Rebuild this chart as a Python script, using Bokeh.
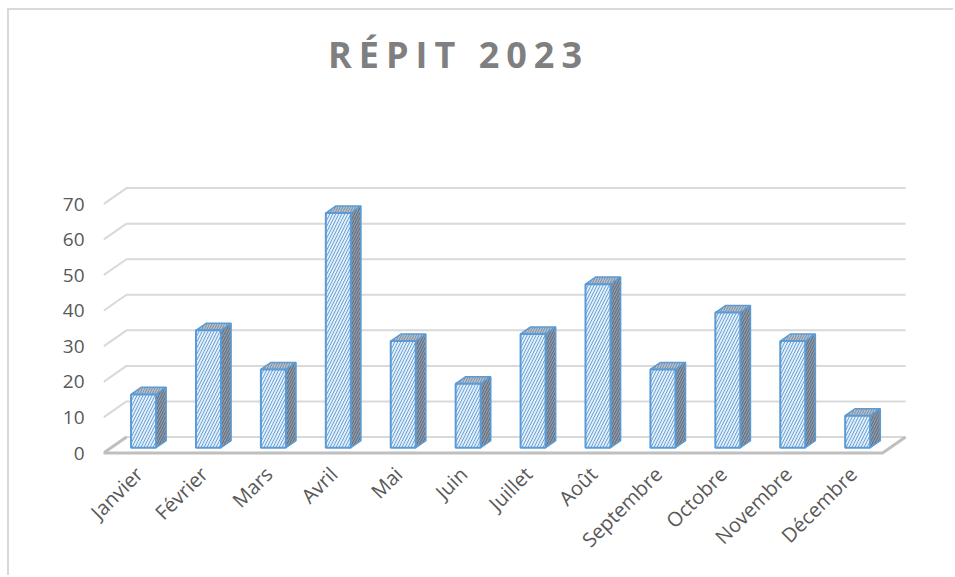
import numpy as np
from bokeh.plotting import figure
from bokeh.layouts import column
from bokeh.models import Range1d, FixedTicker, LinearAxis, Div
from bokeh.embed import file_html
from bokeh.resources import INLINE

# ---------------- data ----------------
months = ["Janvier", "Février", "Mars", "Avril", "Mai", "Juin", "Juillet",
          "Août", "Septembre", "Octobre", "Novembre", "Décembre"]
counts = [15, 33, 22, 66, 30, 18, 32, 46, 22, 38, 30, 9]
y_ticks = [0, 10, 20, 30, 40, 50, 60, 70]
title_text = "RÉPIT 2023"

# ---------------- layout (page pixels) ----------------
OX, OY = 9, 10             # content origin on page (after margin + border)
W, H = 944, 565            # total content size
TH = 120                   # title band height
HF = H - TH                # figure height
CX0, CY0 = OX, OY + TH     # figure canvas origin on page
FL, FR, FB = 103, OX + W, 457   # frame edges on page
FT = CY0
SX = 64.92                 # px per category
SY = 3.556                 # px per value unit
Y0 = 452.5                 # page y of value 0 (front plane)
DEPTH_PX = (23, 16)        # back wall offset in px
DX = DEPTH_PX[0] / SX
DY = DEPTH_PX[1] / SY
D1, D2 = 0.33, 0.77        # bar depth span (fraction of floor depth)
BW = 25 / SX               # bar width
LABEL_SHIFT = 3 / SX

x_start = -0.5
x_end = x_start + (FR - FL) / SX
y_start = -(FB - Y0) / SY
y_end = (Y0 - FT) / SY

p = figure(width=W, height=HF, output_backend="svg", toolbar_location=None,
           x_range=Range1d(x_start, x_end), y_range=Range1d(y_start, y_end),
           x_axis_location=None, min_border_left=FL - CX0, min_border_right=0,
           min_border_top=0, min_border_bottom=CY0 + HF - FB, margin=0)
p.outline_line_color = None
p.xgrid.visible = False
p.ygrid.visible = False
p.background_fill_color = "white"
p.border_fill_color = "white"

n = len(months)
# ---------------- gridlines (3D walls) ----------------
gx, gy = [], []
for t in y_ticks:
    gx.append([x_start, x_start + DX, x_start + n + DX])
    gy.append([t, t + DY, t + DY])
p.multi_line(gx, gy, line_color="#d9d9d9", line_width=2)

# floor
p.line([x_start + DX, x_start, x_start + n, x_start + n + DX],
       [DY, 0, 0, DY], line_color="#bfbfbf", line_width=3)

# ---------------- bars ----------------
fx, fy, tx, ty, sx_, sy_ = [], [], [], [], [], []
dd = D2 - D1
for i, c in enumerate(counts):
    xc = i + D1 * DX
    xl, xr = xc - BW / 2, xc + BW / 2
    vb = D1 * DY
    vt = vb + c
    fx.append([xl, xr, xr, xl]); fy.append([vb, vb, vt, vt])
    tx.append([xl, xr, xr + dd * DX, xl + dd * DX]); ty.append([vt, vt, vt + dd * DY, vt + dd * DY])
    sx_.append([xr, xr + dd * DX, xr + dd * DX, xr]); sy_.append([vb, vb + dd * DY, vt + dd * DY, vt])

p.patches(sx_, sy_, fill_color="#8e9bab", hatch_pattern="/", hatch_color="#5d6875",
          hatch_scale=5, hatch_weight=1, line_color="#5b9bd5", line_width=1.5)
p.patches(tx, ty, fill_color="#b3c2d3", hatch_pattern="/", hatch_color="#7d8a99",
          hatch_scale=5, hatch_weight=1, line_color="#5b9bd5", line_width=1.5)
p.patches(fx, fy, fill_color="#e1edf9", hatch_pattern="/", hatch_color="#6aa3d8",
          hatch_scale=6, hatch_weight=1, line_color="#5b9bd5", line_width=2)

# ---------------- axes ----------------
ya = p.yaxis[0]
ya.ticker = FixedTicker(ticks=y_ticks)
ya.axis_line_color = None
ya.major_tick_line_color = None
ya.minor_tick_line_color = None
ya.major_tick_out = 0
ya.major_label_standoff = 19
ya.major_label_text_font = "Open Sans"
ya.major_label_text_font_size = "19px"
ya.major_label_text_color = "#595959"

p.extra_x_ranges = {"lab": Range1d(x_start - LABEL_SHIFT, x_end - LABEL_SHIFT)}
xa = LinearAxis(x_range_name="lab", ticker=FixedTicker(ticks=list(range(n))),
                major_label_overrides={i: m for i, m in enumerate(months)})
xa.axis_line_color = None
xa.major_tick_line_color = None
xa.minor_tick_line_color = None
xa.major_tick_out = 0
xa.major_label_standoff = 13
xa.major_label_orientation = np.pi / 4
xa.major_label_text_font = "Open Sans"
xa.major_label_text_font_size = "20px"
xa.major_label_text_color = "#595959"
p.add_layout(xa, "below")

# ---------------- title ----------------
title_center = 455
title = Div(text=title_text, width=2 * (title_center - OX) + 7, height=TH, margin=0,
            styles={"font-family": "Open Sans", "font-weight": "bold",
                    "font-size": "36px", "letter-spacing": "7px",
                    "color": "#7f7f7f", "text-align": "center",
                    "line-height": "90px"})

layout = column(title, p, spacing=0,
                styles={"margin-left": "7px", "margin-top": "8px",
                        "border-top": "2px solid #d9d9d9",
                        "border-left": "2px solid #d9d9d9",
                        "background-color": "white"})

open("out.html", "w").write(file_html(layout, INLINE))
